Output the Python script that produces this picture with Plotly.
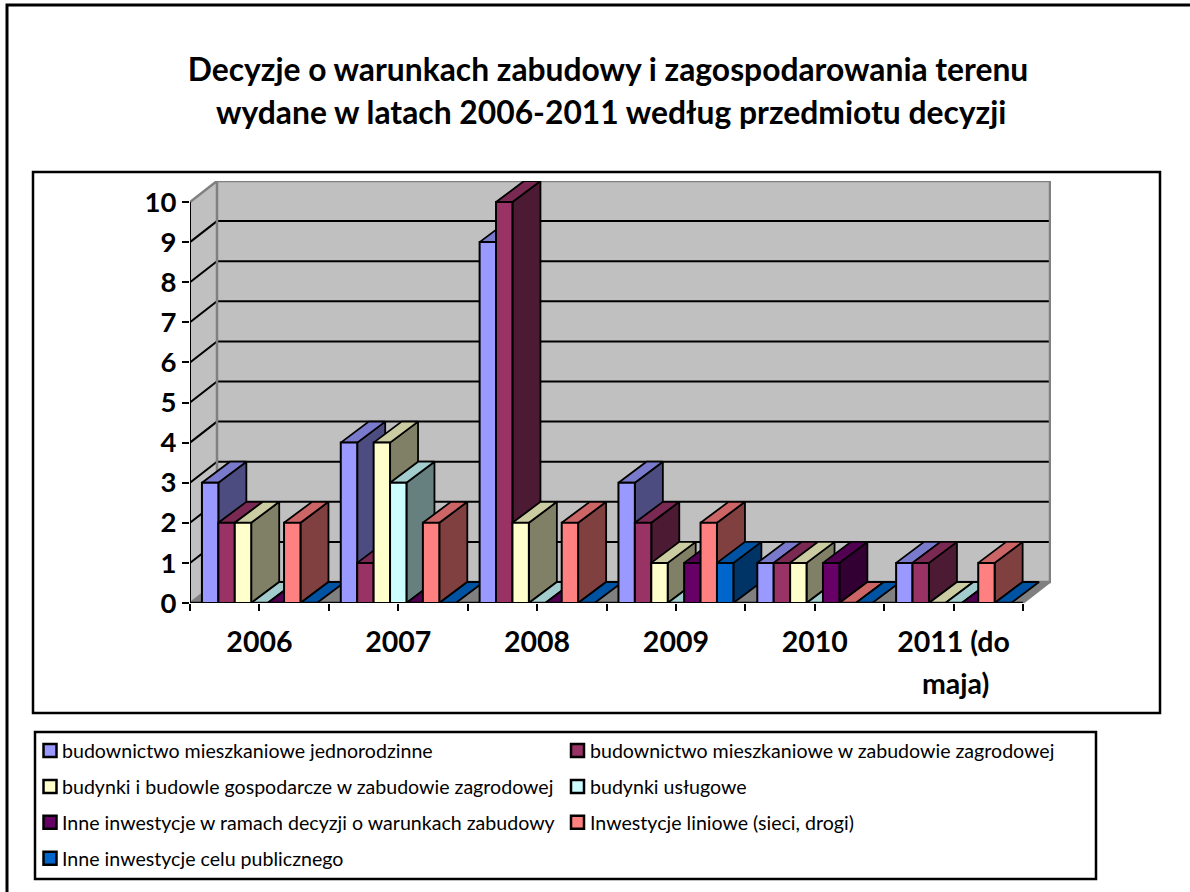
import plotly.graph_objects as go

W, H = 1190, 892

categories = ["2006", "2007", "2008", "2009", "2010", "2011 (do"]
series_names = [
    "budownictwo mieszkaniowe jednorodzinne",
    "budownictwo mieszkaniowe w zabudowie zagrodowej",
    "budynki i budowle gospodarcze w zabudowie zagrodowej",
    "budynki usługowe",
    "Inne inwestycje w ramach decyzji o warunkach zabudowy",
    "Inwestycje liniowe (sieci, drogi)",
    "Inne inwestycje celu publicznego",
]
jednorodzinne = [3, 4, 9, 3, 1, 1]
zagrodowa = [2, 1, 10, 2, 1, 1]
gospodarcze = [2, 4, 2, 1, 1, 0]
uslugowe = [0, 3, 0, 0, 0, 0]
inne_wz = [0, 0, 0, 1, 1, 0]
liniowe = [2, 2, 2, 2, 0, 1]
publiczne = [0, 0, 0, 1, 0, 0]
all_values = [jednorodzinne, zagrodowa, gospodarcze, uslugowe, inne_wz, liniowe, publiczne]
colors = [(0x99, 0x99, 0xFF), (0x99, 0x33, 0x66), (0xFF, 0xFF, 0xCC), (0xCC, 0xFF, 0xFF),
          (0x66, 0x00, 0x66), (0xFF, 0x80, 0x80), (0x00, 0x66, 0xCC)]

def shade(c, f):
    return "rgb(%d,%d,%d)" % tuple(round(v * f) for v in c)

# geometry of the pseudo-3D box (px -> data units)
X0, X1, Y0, YT = 190, 1051, 603, 181
PX_CAT = (1023 - 190) / 6
PX_VAL = (603 - 202) / 10
XMAX = (X1 - X0) / PX_CAT
YMAX = (Y0 - YT) / PX_VAL
DX = 27 / PX_CAT
DY = 21 / PX_VAL
BDX = 28 / PX_CAT
BDY = 21 / PX_VAL
BARGAP = 0.172
BW = (1 - BARGAP) / 7
NC = len(categories)
VMAX = 10

FONT = "Lato"
fig = go.Figure()

def poly(xs, ys, fill, line, lw=1.8):
    fig.add_trace(go.Scatter(
        x=xs + xs[:1], y=ys + ys[:1], mode="lines", fill="toself", fillcolor=fill,
        line=dict(color=line, width=lw, shape="linear"), showlegend=False,
        hoverinfo="skip", cliponaxis=False))

def path(xs, ys, color, lw):
    fig.add_trace(go.Scatter(x=xs, y=ys, mode="lines", line=dict(color=color, width=lw),
                             showlegend=False, hoverinfo="skip", cliponaxis=False))

GRAY = "#808080"
WALL = "#C0C0C0"
# walls and floor
poly([DX, NC + DX, NC + DX, DX], [DY, DY, VMAX + DY, VMAX + DY], WALL, WALL, 0)
poly([0, DX, DX, 0], [0, DY, VMAX + DY, VMAX], WALL, WALL, 0)
poly([0, DX, NC + DX, NC], [0, DY, DY, 0], GRAY, GRAY, 0)
for v in range(1, VMAX):
    path([0, DX, NC + DX], [v, v + DY, v + DY], "black", 2)
path([0, DX, NC + DX, NC + DX, DX, DX], [VMAX, VMAX + DY, VMAX + DY, DY, DY, VMAX + DY], GRAY, 2.5)
path([NC, NC + DX], [0, DY], GRAY, 2)
path([0, DX], [0, DY], GRAY, 2)

# top and side faces, left to right
for c in range(NC):
    left = c + BARGAP / 2
    for s, vals in enumerate(all_values):
        v = vals[c]
        a = left + s * BW
        b = a + BW
        if v > 0:
            poly([b, b + BDX, b + BDX, b], [0, BDY, v + BDY, v], shade(colors[s], 0.5), "black")
        poly([a, a + BDX, b + BDX, b], [v, v + BDY, v + BDY, v], shade(colors[s], 0.8), "black")

# axis lines
path([0, 0], [0, VMAX], "black", 2)
path([0, NC], [0, 0], "black", 2.5)

# front faces
xc = [i + 0.5 for i in range(NC)]
for s, vals in enumerate(all_values):
    fig.add_trace(go.Bar(
        x=xc, y=vals, name=series_names[s], xaxis="x2", yaxis="y2", width=BW,
        marker=dict(color=shade(colors[s], 1), line=dict(color="black", width=2)),
        cliponaxis=False, showlegend=False, hovertemplate="%{y}<extra>" + series_names[s] + "</extra>"))

tickvals = [i / 2 for i in range(2 * NC + 1)]
ticktext = [categories[i // 2] if i % 2 else " " for i in range(2 * NC + 1)]
xdom = [X0 / W, X1 / W]
ydom = [1 - Y0 / H, 1 - YT / H]

shapes = []
def frame(x0, y0, x1, y1, lw=2.5):
    shapes.append(dict(type="rect", xref="paper", yref="paper", x0=x0 / W, x1=x1 / W,
                       y0=1 - y0 / H, y1=1 - y1 / H, line=dict(color="black", width=lw),
                       fillcolor="rgba(0,0,0,0)", layer="below"))
frame(7, 5, 1220, 920, 3)
frame(33, 172, 1160, 713)
frame(35, 732, 1096, 879)

annotations = []
def label(text, x, y, size, bold=False, anchor="left"):
    annotations.append(dict(text=text, xref="paper", yref="paper", x=x / W, y=1 - y / H, showarrow=False,
                            xanchor=anchor, yanchor="middle", align=anchor,
                            font=dict(family=FONT, size=size, color="black", weight=700 if bold else 400)))

label("wydane w latach 2006-2011 według przedmiotu decyzji", 611, 112, 31.8, True, "center")
label("maja)", 955, 683, 28.5, True, "center")

# legend: two columns, row-major
for i, name in enumerate(series_names):
    col, row = i % 2, i // 2
    sx = 50 if col == 0 else 577.5
    tx = 60 if col == 0 else 588
    sy = 750.5 + 35.9 * row
    shapes.append(dict(type="rect", xref="paper", yref="paper", x0=(sx - 6.5) / W, x1=(sx + 6.5) / W,
                       y0=1 - (sy - 6.5) / H, y1=1 - (sy + 6.5) / H, line=dict(color="black", width=2.5),
                       fillcolor=shade(colors[i], 1)))
    label(name, tx, sy, 19.6)

fig.update_layout(
    width=W, height=H, autosize=False, margin=dict(l=0, r=0, t=0, b=0),
    paper_bgcolor="white", plot_bgcolor="rgba(0,0,0,0)", showlegend=False,
    barmode="group", bargap=BARGAP, bargroupgap=0,
    title=dict(text="Decyzje o warunkach zabudowy i zagospodarowania terenu", x=608 / W, y=1 - 70 / H,
               xanchor="center", yanchor="middle", font=dict(family=FONT, size=31.8, color="black", weight=700)),
    xaxis=dict(domain=xdom, range=[0, XMAX], tickmode="array", tickvals=tickvals, ticktext=ticktext,
               ticks="outside", ticklen=7, tickwidth=2, tickcolor="black", showgrid=False, zeroline=False,
               showline=False, ticklabelstandoff=7, tickangle=0, automargin=False,
               tickfont=dict(family=FONT, size=28.5, color="black", weight=700)),
    yaxis=dict(domain=ydom, range=[0, YMAX], tickmode="array", tickvals=list(range(VMAX + 1)),
               ticks="outside", ticklen=7, tickwidth=2, tickcolor="black", showgrid=False, zeroline=False,
               showline=False, ticklabelstandoff=0, automargin=False,
               tickfont=dict(family=FONT, size=27.5, color="black", weight=700)),
    xaxis2=dict(domain=xdom, range=[0, XMAX], overlaying="x", anchor="y2", visible=False, automargin=False),
    yaxis2=dict(domain=ydom, range=[0, YMAX], overlaying="y", anchor="x2", visible=False, automargin=False),
    shapes=shapes, annotations=annotations,
)
fig.write_html("out.html", config=dict(displayModeBar=False),
               post_script="document.body.style.margin='0';document.body.style.overflow='hidden';")
